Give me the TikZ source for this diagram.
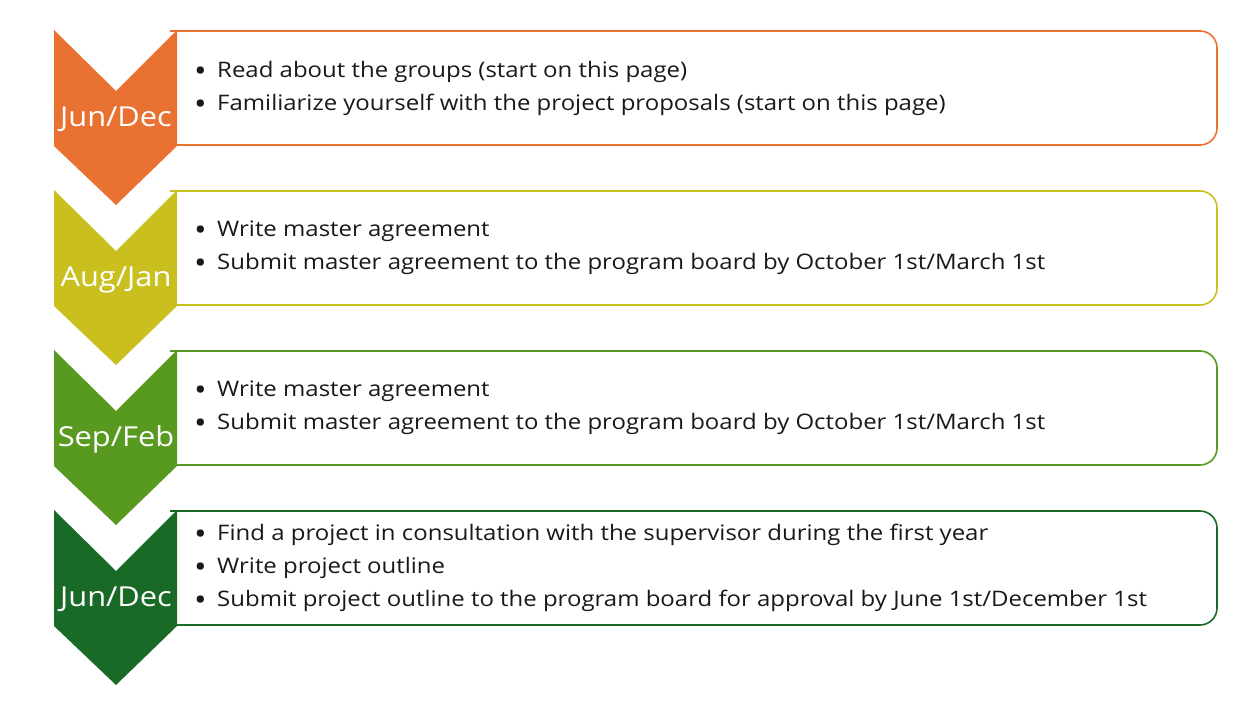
\documentclass[tikz,border=0pt]{standalone}
\usepackage{fontspec}
\setmainfont[FakeStretch=1.12]{Open Sans}
\definecolor{corange}{HTML}{E97132}
\definecolor{cyellow}{HTML}{C9C01F}
\definecolor{cgreen}{HTML}{589A1F}
\definecolor{cdgreen}{HTML}{1A6A27}
\newcommand{\bl}[1]{\makebox[23pt][l]{\fontsize{30}{0}\selectfont\raisebox{-4pt}{\textbullet}}#1}
\tikzset{
  x=1pt, y=-1pt,
  chev/.style={fill=#1, draw=none},
  stagebox/.style={draw=#1, line width=1.6pt, rounded corners=17pt},
  stagelabel/.style={text=white, font=\fontsize{27.5}{30}\selectfont, inner sep=0pt, anchor=base},
  stagetext/.style={anchor=west, align=left, inner sep=0pt, font=\fontsize{21.4}{33}\selectfont, text=black!90}
}
\begin{document}
\begin{tikzpicture}
\useasboundingbox (0,0) rectangle (1260,709);
\fill[white] (0,0) rectangle (1260,709);
\foreach \i/\c/\lab [count=\k] in {0/corange/Jun\slash Dec,160/cyellow/Aug\slash Jan,320/cgreen/Sep\slash Feb,480/cdgreen/Jun\slash Dec}{
  \draw[stagebox=\c] (170,31+\i) -- (1217,31+\i) -- (1217,145+\i) -- (170,145+\i);
  \fill[chev=\c] (54,30+\i) -- (116,91+\i) -- (177,30+\i) -- (177,146+\i) -- (116,205+\i) -- (54,146+\i) -- cycle;
  \node[stagelabel] (lab\k) at (116,126+\i) {\lab};
}
\node[stagetext] (t1) at (194,88) {\bl{Read about the groups (start on this page)}\\\bl{Familiarize yourself with the project proposals (start on this page)}};
\node[stagetext] (t2) at (194,248) {\bl{Write master agreement}\\\bl{Submit master agreement to the program board by October 1st/March 1st}};
\node[stagetext] (t3) at (194,408) {\bl{Write master agreement}\\\bl{Submit master agreement to the program board by October 1st/March 1st}};
\node[stagetext] (t4) at (194,568) {\bl{Find a project in consultation with the supervisor during the first year}\\\bl{Write project outline}\\\bl{Submit project outline to the program board for approval by June 1st/December 1st}};
\end{tikzpicture}
\end{document}
